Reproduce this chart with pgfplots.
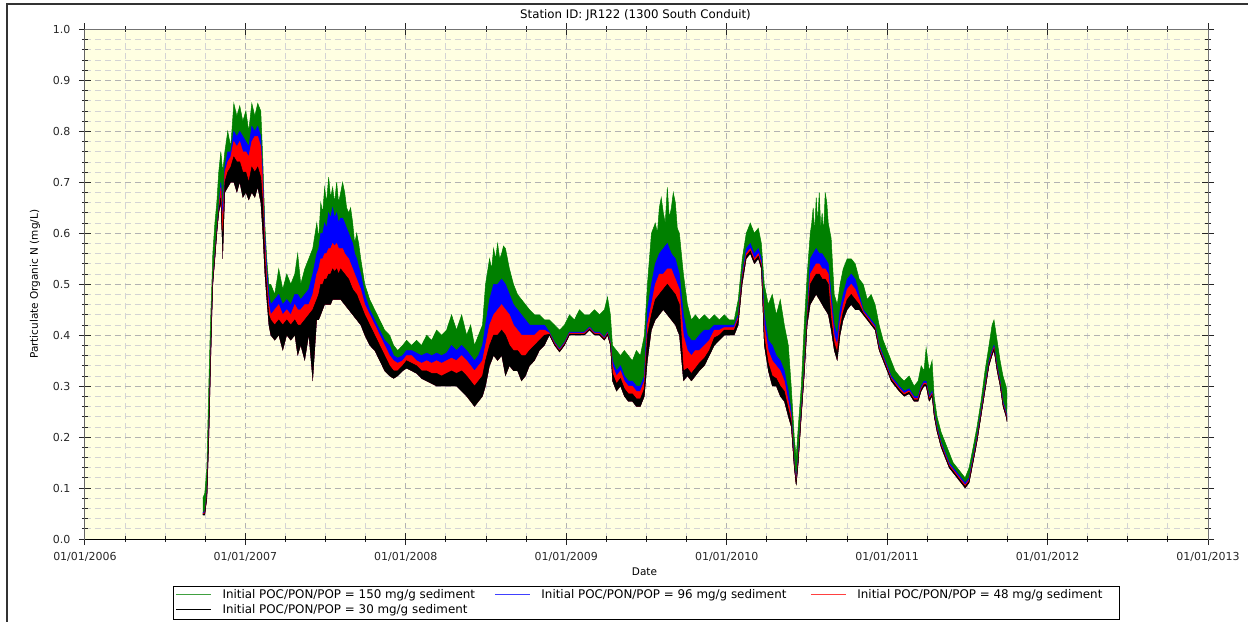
\documentclass[border=0pt]{standalone}
\usepackage{fontspec}
\setmainfont{DejaVu Sans}
\usepackage{pgfplots}
\usepackage{pgfplotstable}
\pgfplotsset{compat=1.18}
\usepgfplotslibrary{fillbetween}
\definecolor{gcol}{RGB}{0,128,0}
\definecolor{bcol}{RGB}{0,0,255}
\definecolor{rcol}{RGB}{255,0,0}
\definecolor{kcol}{RGB}{0,0,0}
\definecolor{bgyel}{RGB}{255,255,226}
\definecolor{majgrid}{RGB}{178,178,178}
\definecolor{mingrid}{RGB}{212,212,212}

% envelopes of the four series: gh/bh/rh/kh = upper envelope (150/96/48/30 mg/g), lo = common lower envelope
\pgfplotstableread{
t gh bh rh kh lo
2006.735 0.080 0.053 0.051 0.049 0.047
2006.747 0.090 0.053 0.051 0.049 0.047
2006.760 0.140 0.086 0.084 0.082 0.080
2006.772 0.300 0.206 0.204 0.202 0.200
2006.782 0.420 0.336 0.334 0.332 0.330
2006.791 0.500 0.446 0.444 0.442 0.440
2006.797 0.560 0.506 0.504 0.502 0.500
2006.810 0.620 0.556 0.554 0.552 0.550
2006.822 0.660 0.606 0.604 0.602 0.600
2006.834 0.720 0.650 0.645 0.642 0.640
2006.847 0.760 0.700 0.690 0.670 0.660
2006.859 0.720 0.640 0.620 0.580 0.550
2006.872 0.760 0.730 0.720 0.700 0.680
2006.890 0.800 0.760 0.740 0.720 0.690
2006.909 0.770 0.760 0.750 0.730 0.700
2006.928 0.855 0.800 0.780 0.750 0.700
2006.947 0.830 0.790 0.770 0.740 0.680
2006.965 0.850 0.800 0.780 0.740 0.700
2006.984 0.820 0.790 0.760 0.720 0.670
2007.003 0.840 0.780 0.760 0.720 0.680
2007.021 0.800 0.770 0.750 0.700 0.665
2007.040 0.855 0.810 0.780 0.730 0.680
2007.059 0.830 0.800 0.790 0.720 0.670
2007.077 0.855 0.810 0.790 0.730 0.690
2007.096 0.840 0.790 0.770 0.710 0.660
2007.108 0.750 0.720 0.700 0.660 0.600
2007.121 0.620 0.600 0.580 0.550 0.520
2007.133 0.550 0.530 0.510 0.490 0.470
2007.146 0.500 0.480 0.460 0.440 0.420
2007.158 0.500 0.460 0.440 0.430 0.400
2007.183 0.480 0.470 0.450 0.420 0.390
2007.208 0.530 0.480 0.460 0.430 0.400
2007.233 0.490 0.460 0.440 0.420 0.370
2007.258 0.520 0.470 0.450 0.430 0.400
2007.283 0.500 0.460 0.440 0.420 0.390
2007.308 0.520 0.480 0.460 0.430 0.400
2007.326 0.560 0.480 0.450 0.420 0.360
2007.345 0.500 0.470 0.450 0.420 0.380
2007.370 0.530 0.480 0.460 0.430 0.350
2007.395 0.550 0.490 0.460 0.440 0.400
2007.420 0.570 0.520 0.480 0.450 0.310
2007.445 0.620 0.560 0.520 0.470 0.430
2007.457 0.590 0.570 0.530 0.480 0.430
2007.470 0.660 0.600 0.550 0.500 0.440
2007.482 0.640 0.600 0.550 0.500 0.450
2007.494 0.690 0.620 0.560 0.510 0.460
2007.506 0.660 0.610 0.560 0.510 0.460
2007.519 0.710 0.640 0.570 0.520 0.460
2007.531 0.670 0.630 0.570 0.520 0.460
2007.544 0.690 0.650 0.580 0.530 0.470
2007.556 0.660 0.630 0.575 0.525 0.470
2007.569 0.700 0.640 0.580 0.530 0.470
2007.581 0.660 0.620 0.570 0.520 0.470
2007.594 0.680 0.630 0.570 0.530 0.470
2007.606 0.700 0.630 0.570 0.525 0.465
2007.619 0.680 0.620 0.560 0.520 0.460
2007.631 0.650 0.610 0.555 0.515 0.455
2007.644 0.640 0.600 0.550 0.510 0.450
2007.656 0.650 0.590 0.540 0.500 0.445
2007.669 0.620 0.580 0.530 0.490 0.440
2007.681 0.580 0.560 0.520 0.485 0.435
2007.694 0.600 0.550 0.510 0.480 0.430
2007.706 0.580 0.535 0.500 0.470 0.425
2007.719 0.550 0.520 0.490 0.460 0.420
2007.744 0.500 0.480 0.460 0.440 0.400
2007.775 0.470 0.450 0.440 0.420 0.380
2007.806 0.450 0.430 0.420 0.400 0.370
2007.837 0.430 0.410 0.400 0.380 0.350
2007.868 0.410 0.390 0.380 0.360 0.330
2007.899 0.400 0.380 0.360 0.340 0.320
2007.924 0.380 0.360 0.350 0.330 0.315
2007.949 0.370 0.355 0.345 0.330 0.320
2007.980 0.380 0.360 0.350 0.340 0.330
2008.005 0.390 0.370 0.360 0.350 0.335
2008.036 0.380 0.370 0.360 0.345 0.330
2008.067 0.390 0.365 0.350 0.340 0.325
2008.098 0.380 0.360 0.345 0.330 0.315
2008.130 0.400 0.365 0.350 0.330 0.310
2008.161 0.390 0.360 0.345 0.325 0.305
2008.192 0.410 0.365 0.350 0.325 0.300
2008.223 0.400 0.360 0.345 0.320 0.300
2008.254 0.410 0.365 0.350 0.325 0.300
2008.285 0.440 0.380 0.355 0.330 0.300
2008.316 0.410 0.370 0.350 0.325 0.300
2008.348 0.440 0.380 0.360 0.330 0.290
2008.379 0.400 0.370 0.350 0.320 0.280
2008.404 0.420 0.360 0.340 0.310 0.270
2008.428 0.380 0.350 0.330 0.300 0.260
2008.453 0.400 0.360 0.340 0.310 0.270
2008.478 0.420 0.380 0.350 0.320 0.280
2008.497 0.500 0.420 0.380 0.350 0.300
2008.522 0.550 0.470 0.420 0.380 0.340
2008.535 0.530 0.485 0.430 0.390 0.350
2008.547 0.570 0.500 0.440 0.400 0.360
2008.560 0.550 0.500 0.445 0.400 0.355
2008.572 0.580 0.500 0.450 0.400 0.350
2008.585 0.550 0.505 0.455 0.405 0.355
2008.597 0.560 0.510 0.460 0.410 0.360
2008.609 0.575 0.505 0.455 0.405 0.340
2008.621 0.570 0.500 0.450 0.400 0.320
2008.646 0.530 0.480 0.440 0.380 0.340
2008.671 0.500 0.460 0.420 0.370 0.330
2008.696 0.480 0.450 0.410 0.370 0.330
2008.721 0.470 0.440 0.400 0.360 0.310
2008.746 0.460 0.430 0.400 0.360 0.320
2008.771 0.450 0.420 0.400 0.370 0.340
2008.802 0.440 0.420 0.400 0.380 0.350
2008.833 0.440 0.420 0.410 0.390 0.370
2008.864 0.430 0.420 0.410 0.400 0.380
2008.895 0.430 0.406 0.404 0.402 0.400
2008.927 0.420 0.386 0.384 0.382 0.380
2008.958 0.410 0.373 0.371 0.369 0.367
2008.989 0.420 0.386 0.384 0.382 0.380
2009.020 0.440 0.406 0.404 0.402 0.400
2009.051 0.430 0.406 0.404 0.402 0.400
2009.082 0.450 0.406 0.404 0.402 0.400
2009.113 0.440 0.406 0.404 0.402 0.400
2009.145 0.440 0.416 0.414 0.412 0.410
2009.176 0.450 0.406 0.404 0.402 0.400
2009.207 0.440 0.406 0.404 0.402 0.400
2009.238 0.450 0.396 0.394 0.392 0.390
2009.257 0.475 0.406 0.404 0.402 0.400
2009.275 0.440 0.386 0.384 0.382 0.380
2009.288 0.380 0.350 0.340 0.325 0.310
2009.313 0.370 0.330 0.320 0.305 0.290
2009.338 0.360 0.340 0.330 0.315 0.300
2009.362 0.370 0.320 0.310 0.295 0.280
2009.387 0.360 0.310 0.300 0.285 0.270
2009.412 0.350 0.310 0.300 0.285 0.270
2009.437 0.370 0.300 0.290 0.275 0.260
2009.462 0.360 0.300 0.290 0.275 0.260
2009.487 0.400 0.320 0.310 0.295 0.280
2009.506 0.500 0.450 0.420 0.400 0.350
2009.531 0.600 0.500 0.460 0.440 0.410
2009.555 0.620 0.540 0.500 0.470 0.430
2009.568 0.600 0.550 0.510 0.475 0.435
2009.580 0.650 0.560 0.520 0.480 0.440
2009.592 0.670 0.565 0.520 0.485 0.445
2009.605 0.640 0.570 0.520 0.490 0.450
2009.617 0.620 0.575 0.525 0.495 0.445
2009.630 0.690 0.580 0.530 0.500 0.440
2009.642 0.630 0.570 0.530 0.495 0.435
2009.655 0.650 0.560 0.530 0.490 0.430
2009.667 0.680 0.555 0.520 0.485 0.425
2009.680 0.660 0.550 0.510 0.480 0.420
2009.692 0.610 0.535 0.500 0.470 0.410
2009.705 0.600 0.520 0.490 0.460 0.400
2009.730 0.520 0.440 0.400 0.330 0.310
2009.755 0.460 0.400 0.370 0.335 0.320
2009.780 0.430 0.390 0.360 0.325 0.310
2009.805 0.440 0.390 0.370 0.335 0.320
2009.829 0.430 0.400 0.370 0.345 0.330
2009.861 0.440 0.410 0.380 0.355 0.340
2009.892 0.430 0.410 0.390 0.370 0.360
2009.923 0.440 0.420 0.410 0.395 0.380
2009.954 0.430 0.420 0.410 0.400 0.390
2009.985 0.440 0.420 0.415 0.410 0.400
2010.016 0.430 0.420 0.415 0.410 0.400
2010.047 0.430 0.420 0.415 0.410 0.400
2010.072 0.470 0.440 0.435 0.430 0.420
2010.097 0.550 0.520 0.515 0.510 0.500
2010.122 0.600 0.570 0.560 0.555 0.550
2010.147 0.620 0.580 0.570 0.565 0.560
2010.172 0.600 0.560 0.550 0.545 0.540
2010.197 0.610 0.570 0.560 0.555 0.550
2010.216 0.580 0.550 0.540 0.535 0.530
2010.234 0.500 0.440 0.420 0.395 0.380
2010.259 0.460 0.390 0.370 0.345 0.330
2010.284 0.480 0.380 0.350 0.320 0.300
2010.309 0.440 0.360 0.340 0.315 0.300
2010.334 0.470 0.350 0.330 0.300 0.280
2010.359 0.420 0.330 0.310 0.290 0.270
2010.384 0.380 0.290 0.270 0.255 0.240
2010.402 0.300 0.250 0.240 0.230 0.220
2010.421 0.200 0.150 0.146 0.143 0.140
2010.433 0.160 0.115 0.111 0.108 0.105
2010.446 0.220 0.160 0.156 0.153 0.150
2010.465 0.300 0.250 0.246 0.243 0.240
2010.483 0.420 0.330 0.326 0.323 0.320
2010.502 0.520 0.440 0.435 0.430 0.420
2010.521 0.600 0.550 0.520 0.500 0.460
2010.530 0.620 0.555 0.525 0.505 0.465
2010.539 0.650 0.560 0.530 0.510 0.470
2010.548 0.600 0.565 0.535 0.515 0.475
2010.558 0.670 0.570 0.540 0.520 0.480
2010.567 0.620 0.565 0.540 0.520 0.475
2010.577 0.680 0.560 0.540 0.520 0.470
2010.586 0.610 0.560 0.535 0.515 0.465
2010.595 0.640 0.560 0.530 0.510 0.460
2010.604 0.600 0.555 0.530 0.510 0.455
2010.614 0.680 0.550 0.530 0.510 0.450
2010.624 0.660 0.545 0.525 0.505 0.445
2010.633 0.620 0.540 0.520 0.500 0.440
2010.651 0.590 0.480 0.460 0.430 0.410
2010.670 0.480 0.420 0.400 0.385 0.370
2010.689 0.460 0.400 0.380 0.365 0.350
2010.707 0.500 0.450 0.430 0.415 0.400
2010.726 0.530 0.480 0.460 0.445 0.430
2010.751 0.550 0.510 0.490 0.470 0.450
2010.776 0.550 0.520 0.500 0.480 0.460
2010.801 0.540 0.510 0.490 0.470 0.450
2010.826 0.510 0.480 0.470 0.460 0.450
2010.851 0.500 0.450 0.446 0.443 0.440
2010.876 0.470 0.440 0.436 0.433 0.430
2010.900 0.480 0.430 0.426 0.423 0.420
2010.925 0.460 0.420 0.416 0.413 0.410
2010.950 0.420 0.380 0.376 0.373 0.370
2010.975 0.390 0.360 0.356 0.353 0.350
2011.000 0.370 0.340 0.336 0.333 0.330
2011.025 0.350 0.320 0.316 0.313 0.310
2011.050 0.330 0.310 0.306 0.303 0.300
2011.075 0.320 0.300 0.296 0.293 0.290
2011.106 0.310 0.290 0.286 0.283 0.280
2011.137 0.320 0.295 0.291 0.288 0.285
2011.168 0.300 0.280 0.276 0.273 0.270
2011.193 0.310 0.280 0.276 0.273 0.270
2011.212 0.340 0.300 0.296 0.293 0.290
2011.230 0.330 0.310 0.306 0.303 0.300
2011.243 0.375 0.310 0.306 0.303 0.300
2011.262 0.330 0.280 0.276 0.273 0.270
2011.280 0.350 0.290 0.286 0.283 0.280
2011.293 0.280 0.250 0.246 0.243 0.240
2011.311 0.240 0.220 0.216 0.213 0.210
2011.336 0.210 0.190 0.186 0.183 0.180
2011.361 0.190 0.170 0.166 0.163 0.160
2011.386 0.170 0.150 0.146 0.143 0.140
2011.411 0.150 0.140 0.136 0.133 0.130
2011.436 0.140 0.130 0.126 0.123 0.120
2011.461 0.130 0.120 0.116 0.113 0.110
2011.486 0.120 0.110 0.106 0.103 0.100
2011.511 0.140 0.120 0.116 0.113 0.110
2011.536 0.180 0.160 0.156 0.153 0.150
2011.560 0.220 0.200 0.196 0.193 0.190
2011.585 0.270 0.250 0.246 0.243 0.240
2011.610 0.330 0.300 0.296 0.293 0.290
2011.635 0.380 0.350 0.346 0.343 0.340
2011.654 0.420 0.370 0.366 0.363 0.360
2011.666 0.430 0.380 0.376 0.373 0.370
2011.685 0.390 0.340 0.336 0.333 0.330
2011.704 0.350 0.310 0.306 0.303 0.300
2011.722 0.320 0.270 0.266 0.263 0.260
2011.741 0.300 0.250 0.246 0.243 0.240
2011.747 0.290 0.240 0.236 0.233 0.230
}\poc

\begin{document}
\begin{tikzpicture}
\path (0pt,0pt) rectangle (1249pt,-622pt);
\draw[black!80, line width=2pt] (7pt,-622pt) -- (7pt,-4pt) -- (1249pt,-4pt);
\begin{axis}[
  at={(85pt,-539.5pt)}, anchor=south west,
  scale only axis, width=1124pt, height=510pt,
  xmin=2006, xmax=2013, ymin=0, ymax=1,
  xtick={2006,2007,2008,2009,2010,2011,2012,2013},
  xticklabels={01/01/2006,01/01/2007,01/01/2008,01/01/2009,01/01/2010,01/01/2011,01/01/2012,01/01/2013},
  minor x tick num=3,
  ytick={0,0.1,0.2,0.3,0.4,0.5,0.6,0.7,0.8,0.9,1.0},
  minor y tick num=4,
  grid=both,
  major grid style={majgrid, dash pattern=on 6pt off 4pt, line width=0.9pt},
  minor grid style={mingrid, dash pattern=on 6pt off 4pt, line width=0.9pt},
  axis background/.style={fill=bgyel},
  tick align=center,
  major tick length=12pt, minor tick length=6pt,
  tick style={black!85, line width=0.9pt},
  axis line style={black!55, line width=0.9pt},
  ticklabel style={font=\fontsize{11}{13}\selectfont, text=black!85},
  xticklabel style={yshift=-4pt},
  yticklabel style={xshift=-5pt, /pgf/number format/.cd, fixed, fixed zerofill, precision=1, assume math mode=true},
  every axis title shift=0pt,
  title={Station ID: JR122 (1300 South Conduit)},
  title style={font=\fontsize{11.8}{14}\selectfont, at={(axis description cs:0.5,1)}, anchor=center, yshift=14.5pt, xshift=-11pt},
  xlabel={Date},
  xlabel style={font=\fontsize{10.5}{12}\selectfont, at={(axis description cs:0.5,0)}, anchor=center, yshift=-32.5pt, xshift=-2pt},
  ylabel={Particulate Organic N  (mg/L)},
  ylabel style={font=\fontsize{10.5}{12}\selectfont, at={(axis description cs:0,0.5)}, anchor=center, yshift=50pt},
  legend columns=3,
  legend cell align=left,
  legend style={at={(axis description cs:0.0783,-0.0912)}, anchor=north west,
    draw=black, line width=1pt, fill=white,
    font=\fontsize{11.9}{13}\selectfont,
    inner xsep=2pt, inner ysep=1.5pt, column sep=0pt,
    nodes={inner xsep=4pt, inner ysep=1.5pt}},
]
\addplot[name path=L, draw=none, forget plot] table[x=t,y=lo]{\poc};
\addplot[name path=G, gcol, line width=0.5pt, forget plot] table[x=t,y=gh]{\poc};
\addplot[gcol, forget plot] fill between[of=G and L];
\addplot[name path=B, bcol, line width=0.5pt, forget plot] table[x=t,y=bh]{\poc};
\addplot[bcol, forget plot] fill between[of=B and L];
\addplot[name path=R, rcol, line width=0.5pt, forget plot] table[x=t,y=rh]{\poc};
\addplot[rcol, forget plot] fill between[of=R and L];
\addplot[name path=K, kcol, line width=0.5pt, forget plot] table[x=t,y=kh]{\poc};
\addplot[kcol, forget plot] fill between[of=K and L];
\draw[black, line width=1pt] (rel axis cs:0,1) -- (rel axis cs:0,0) -- (rel axis cs:1,0);
\addlegendimage{color=gcol, line width=1pt, legend image code/.code={\path (0pt,-8pt); \draw[color=gcol!75, line width=1.2pt] (0pt,0pt) -- (35pt,0pt);}}
\addlegendentry{\hspace*{7pt}\makebox[268pt][l]{Initial POC/PON/POP = 150 mg/g sediment}}
\addlegendimage{color=bcol, line width=1pt, legend image code/.code={\path (0pt,-8pt); \draw[color=bcol!75, line width=1.2pt] (0pt,0pt) -- (35pt,0pt);}}
\addlegendentry{\hspace*{7pt}\makebox[265pt][l]{Initial POC/PON/POP = 96 mg/g sediment}}
\addlegendimage{color=rcol, line width=1pt, legend image code/.code={\path (0pt,-8pt); \draw[color=rcol!75, line width=1.2pt] (0pt,0pt) -- (35pt,0pt);}}
\addlegendentry{\hspace*{7pt}\makebox[256pt][l]{Initial POC/PON/POP = 48 mg/g sediment}}
\addlegendimage{color=kcol, line width=1pt, legend image code/.code={\path (0pt,-8pt); \draw[color=kcol, line width=1.2pt] (0pt,0pt) -- (35pt,0pt);}}
\addlegendentry{\hspace*{7pt}\makebox[268pt][l]{Initial POC/PON/POP = 30 mg/g sediment}}
\end{axis}
\end{tikzpicture}
\end{document}
